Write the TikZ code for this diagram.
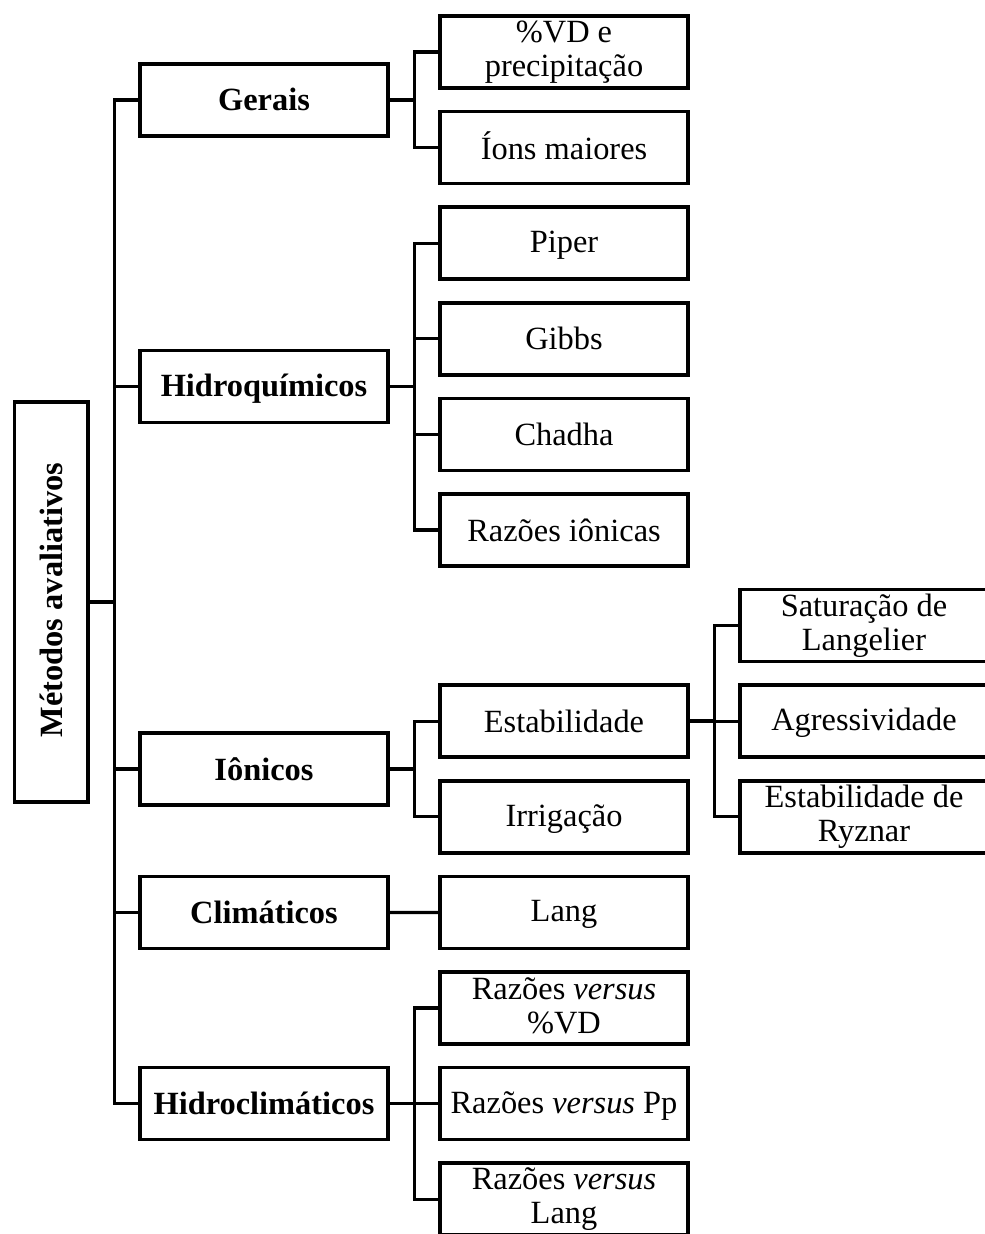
\documentclass[tikz,border=0pt]{standalone}
\usepackage{fontspec}
\usepackage{graphicx}
\setmainfont{Liberation Serif}
\usetikzlibrary{positioning}
\newcommand{\escora}{\rule[-2pt]{0pt}{15pt}}

\begin{document}
\begin{tikzpicture}[x=0.5pt,y=-0.5pt,node distance=47.8pt,on grid,line width=1.6pt,font=\fontsize{16.2}{17}\selectfont]
	\tikzstyle{caixa}=[draw,line width=1.8pt,align=center,minimum width=124pt,minimum height=36pt,inner sep=2pt,
		execute at begin node=\escora,execute at end node=\escora]
	\tikzstyle{grupo}=[caixa,font=\fontsize{16.2}{17}\selectfont\bfseries]
	\useasboundingbox (0,0) rectangle (984,1234);

	% raiz e grupos
	\node[grupo,minimum width=36.7pt,minimum height=200pt,execute at begin node={},execute at end node={}] (RAIZ) at (51,602) {\rotatebox{90}{Métodos avaliativos}};
	\node[grupo] (GERAIS) at (264,100) {Gerais};
	\node[grupo] (HIDROQ) at (264,386.6) {Hidroquímicos};
	\node[grupo] (IONICOS) at (264,769) {Iônicos};
	\node[grupo] (CLIMA) at (264,912.4) {Climáticos};
	\node[grupo] (HIDROC) at (264,1103.6) {Hidroclimáticos};

	% metodos
	\node[caixa] (VD) at (564,52) {\%VD e\\precipitação};
	\node[caixa] (IONS) [below=of VD] {Íons maiores};
	\node[caixa] (PIPER) [below=of IONS] {Piper};
	\node[caixa] (GIBBS) [below=of PIPER] {Gibbs};
	\node[caixa] (CHADHA) [below=of GIBBS] {Chadha};
	\node[caixa] (RAZOES) [below=of CHADHA] {Razões iônicas};
	\node[caixa] (ESTAB) [below=95.6pt of RAZOES] {Estabilidade};
	\node[caixa] (IRRIG) [below=of ESTAB] {Irrigação};
	\node[caixa] (LANG) [below=of IRRIG] {Lang};
	\node[caixa] (RVD) [below=of LANG] {Razões \textit{versus}\\\%VD};
	\node[caixa] (RPP) [below=of RVD] {Razões \textit{versus} Pp};
	\node[caixa] (RLANG) [below=of RPP] {Razões \textit{versus}\\Lang};

	% indices de estabilidade
	\node[caixa] (AGRESS) [right=150pt of ESTAB] {Agressividade};
	\node[caixa] (LANGEL) [above=of AGRESS] {Saturação de\\Langelier};
	\node[caixa] (RYZNAR) [below=of AGRESS] {Estabilidade de\\Ryznar};

	% ligacoes
	\draw (RAIZ.east) -- ++(25,0) coordinate (tronco);
	\draw (tronco) |- (GERAIS.west) (tronco) |- (HIDROQ.west) (tronco) |- (IONICOS.west)
		(tronco) |- (CLIMA.west) (tronco) |- (HIDROC.west);

	\draw (GERAIS.east) -- ++(25,0) coordinate (g);
	\draw (g) |- (VD.west) (g) |- (IONS.west);

	\draw (HIDROQ.east) -- ++(25,0) coordinate (h);
	\draw (h) |- (PIPER.west) (h) |- (GIBBS.west) (h) |- (CHADHA.west) (h) |- (RAZOES.west);

	\draw (IONICOS.east) -- ++(25,0) coordinate (i);
	\draw (i) |- (ESTAB.west) (i) |- (IRRIG.west);

	\draw (CLIMA.east) -- (LANG.west);

	\draw (HIDROC.east) -- ++(25,0) coordinate (hc);
	\draw (hc) |- (RVD.west) (hc) |- (RPP.west) (hc) |- (RLANG.west);

	\draw[line width=2.2pt] (ESTAB.east) -- ++(25,0) coordinate (e);
	\draw (e) |- (LANGEL.west) (e) |- (AGRESS.west) (e) |- (RYZNAR.west);
\end{tikzpicture}
\end{document}
